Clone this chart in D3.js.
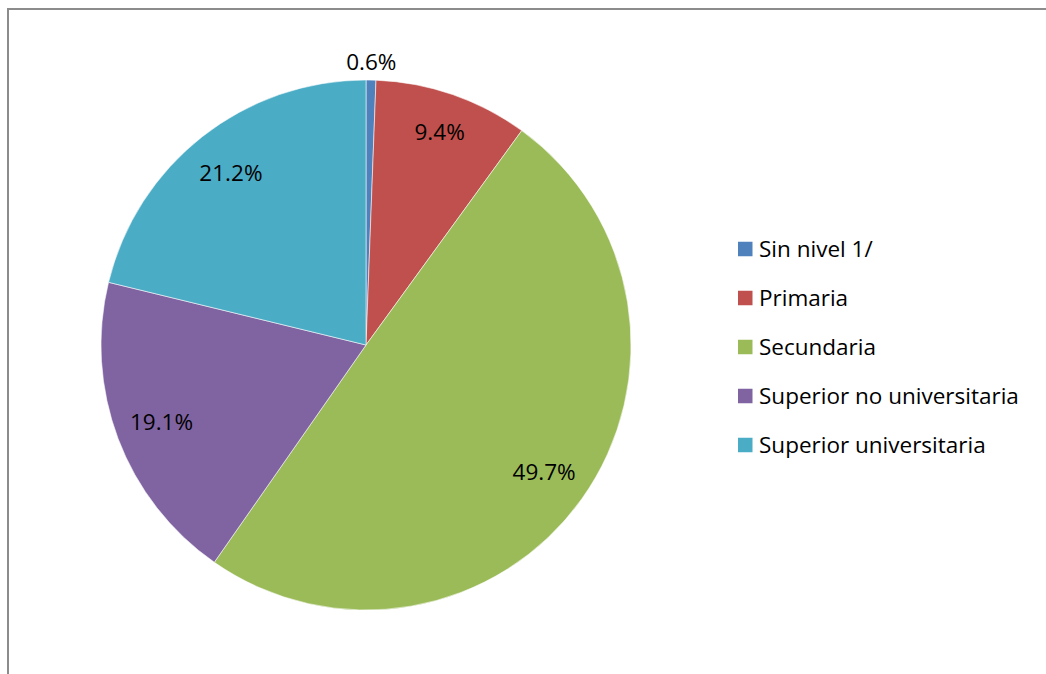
<!DOCTYPE html>
<html>
<head>
<meta charset="utf-8">
<script src="https://cdn.jsdelivr.net/npm/d3@7"></script>
<style>
  html, body { margin: 0; padding: 0; background: #fff; }
  svg { display: block; }
</style>
</head>
<body>
<svg id="chart" width="1046" height="674"></svg>
<script>
// Nivel educativo: distribución porcentual
const categories = ["Sin nivel 1/", "Primaria", "Secundaria", "Superior no universitaria", "Superior universitaria"];
const values = [0.6, 9.4, 49.7, 19.1, 21.2];
const colors = ["#4F81BD", "#C0504D", "#9BBB59", "#8064A2", "#4BACC6"];

const svg = d3.select("#chart");
const W = 1046, H = 674;
const font = "'Open Sans', 'Noto Sans', sans-serif";
const fs = 22.5;
const capH = fs * 0.714;

// chart area frame (top and left edges visible)
svg.append("line").attr("x1", 8).attr("y1", 9).attr("x2", W).attr("y2", 9)
  .attr("stroke", "#8c8c8c").attr("stroke-width", 2);
svg.append("line").attr("x1", 8).attr("y1", 8).attr("x2", 8).attr("y2", H)
  .attr("stroke", "#8c8c8c").attr("stroke-width", 2);

const cx = 366, cy = 345, R = 265;

const data = categories.map((c, i) => ({ name: c, value: values[i], color: colors[i] }));
const pie = d3.pie().value(d => d.value).sort(null);
const arcs = pie(data);
const arc = d3.arc().innerRadius(0).outerRadius(R);

const g = svg.append("g").attr("transform", `translate(${cx},${cy})`);
g.selectAll("path.slice").data(arcs).join("path")
  .attr("class", "slice")
  .attr("d", arc)
  .attr("fill", d => d.data.color)
  .attr("stroke", "#ffffff")
  .attr("stroke-width", 0.8)
  .attr("stroke-opacity", 0.7);

// labels: inside the slice, small slices placed just outside the rim
const fmt = v => v.toFixed(1) + "%";
g.selectAll("text.lbl").data(arcs).join("text")
  .attr("class", "lbl")
  .attr("transform", d => {
    const a = (d.startAngle + d.endAngle) / 2;
    const frac = d.data.value < 2 ? 1.07 : (d.data.value < 12 ? 0.85 : 0.825);
    return `translate(${Math.sin(a) * R * frac},${-Math.cos(a) * R * frac + capH / 2})`;
  })
  .attr("text-anchor", "middle")
  .attr("font-family", font)
  .attr("font-size", fs)
  .attr("fill", "#000")
  .text(d => fmt(d.data.value));

// legend
const lx = 738, ly0 = 249, step = 49, sq = 14.5;
const leg = svg.append("g");
const items = leg.selectAll("g").data(data).join("g")
  .attr("transform", (d, i) => `translate(${lx},${ly0 + i * step})`);
items.append("rect").attr("x", 0).attr("y", -sq / 2).attr("width", sq).attr("height", sq)
  .attr("fill", d => d.color);
items.append("text").attr("x", 21).attr("y", sq / 2 + 0.5)
  .attr("font-family", font)
  .attr("font-size", fs)
  .attr("fill", "#000")
  .text(d => d.name);
</script>
</body>
</html>
